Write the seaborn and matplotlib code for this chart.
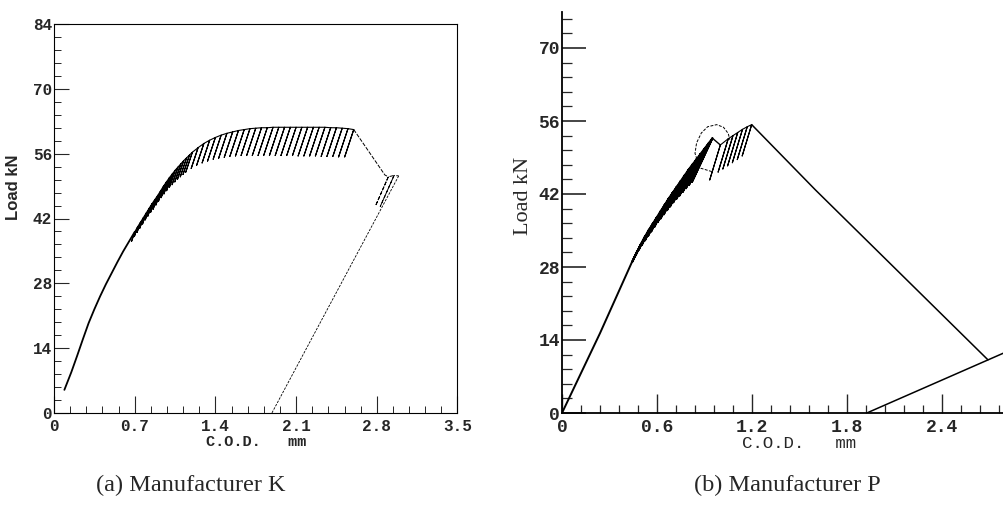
import matplotlib
matplotlib.use("Agg")
import matplotlib.pyplot as plt
from matplotlib.ticker import MultipleLocator, FixedLocator
import pandas as pd
import seaborn as sns

# ---------- (a) Manufacturer K ----------
env_k_cod = [0.09, 0.15, 0.2, 0.25, 0.3, 0.35, 0.4, 0.45, 0.5, 0.55, 0.6, 0.65, 0.7]
env_k_load = [5.0, 8.8, 12.3, 15.9, 19.4, 22.4, 25.2, 27.8, 30.2, 32.6, 34.9, 37.0, 39.1]

cyc_k_cod = [0.700, 0.725, 0.750, 0.775, 0.800, 0.825, 0.850, 0.875, 0.900, 0.925,
             0.950, 0.975, 1.000, 1.025, 1.050, 1.075, 1.100, 1.125, 1.150, 1.175, 1.200,
             1.25, 1.30, 1.35, 1.40, 1.45, 1.50, 1.55, 1.60, 1.65, 1.70, 1.75, 1.80,
             1.85, 1.90, 1.95, 2.00, 2.05, 2.10, 2.15, 2.20, 2.25, 2.30, 2.35, 2.40,
             2.45, 2.50, 2.55, 2.60]
cyc_k_peak = [39.1, 40.2, 41.2, 42.2, 43.2, 44.2, 45.2, 46.1, 47.0, 48.0,
              49.0, 49.9, 50.8, 51.6, 52.4, 53.1, 53.8, 54.5, 55.1, 55.7, 56.3,
              57.3, 58.2, 58.9, 59.5, 60.0, 60.4, 60.7, 61.0, 61.2, 61.4, 61.5, 61.6,
              61.6, 61.7, 61.7, 61.7, 61.7, 61.7, 61.7, 61.7, 61.7, 61.7, 61.7, 61.6,
              61.6, 61.5, 61.4, 61.2]
cyc_k_valley = [37.1, 38.1, 39.0, 39.9, 40.8, 41.7, 42.5, 43.3, 44.0, 44.9,
                45.7, 46.5, 47.3, 48.0, 48.7, 49.3, 49.9, 50.5, 51.0, 51.5, 52.0,
                52.8, 53.5, 54.0, 54.4, 54.8, 55.0, 55.2, 55.4, 55.5, 55.6, 55.6, 55.6,
                55.6, 55.6, 55.6, 55.6, 55.6, 55.6, 55.6, 55.5, 55.5, 55.5, 55.5, 55.4,
                55.4, 55.4, 55.3, 55.3]

soft_k_cod = [2.60, 2.87, 2.90, 2.79, 2.90, 2.95, 2.83, 2.95, 2.99]
soft_k_load = [61.2, 51.4, 51.0, 44.8, 51.0, 51.3, 44.6, 51.3, 51.2]
final_k_cod = [2.99, 1.89]
final_k_load = [51.2, 0.0]

k_xticks = [0, 0.7, 1.4, 2.1, 2.8, 3.5]
k_xlabels = ["0", "0.7", "1.4", "2.1", "2.8", "3.5"]
k_yticks = [0, 14, 28, 42, 56, 70, 84]
k_ylabels = ["0", "14", "28", "42", "56", "70", "84"]

# ---------- (b) Manufacturer P ----------
env_p_cod = [0.0, 0.24, 0.45]
env_p_load = [0.0, 15.3, 29.5]

cyc_p_cod = [0.475, 0.50, 0.525, 0.55, 0.575, 0.60, 0.625, 0.65, 0.675, 0.70,
             0.725, 0.75, 0.775, 0.80, 0.825, 0.85, 0.875, 0.90, 0.925, 0.95]
cyc_p_peak = [31.0, 32.5, 33.9, 35.2, 36.4, 37.6, 38.8, 40.0, 41.2, 42.3,
              43.4, 44.5, 45.6, 46.7, 47.7, 48.7, 49.7, 50.7, 51.7, 52.7]
cyc_p_valley = [29.0, 30.2, 31.3, 32.2, 33.1, 34.0, 34.8, 35.7, 36.6, 37.3,
                38.1, 38.9, 39.6, 40.4, 41.1, 41.7, 42.4, 43.1, 43.7, 44.3]

cyc2_p_cod = [1.00, 1.05, 1.08, 1.11, 1.14, 1.17, 1.198]
cyc2_p_peak = [51.4, 52.6, 53.2, 53.8, 54.4, 54.9, 55.3]
cyc2_p_valley = [44.7, 46.2, 46.8, 47.4, 48.0, 48.6, 49.3]

loop_p_cod = [0.946, 0.87, 0.84, 0.85, 0.88, 0.92, 0.977, 1.02, 1.05, 1.06]
loop_p_load = [46.3, 47.0, 49.8, 51.8, 53.7, 54.9, 55.3, 54.8, 53.6, 52.4]

desc_p_cod = [1.198, 1.6, 2.69]
desc_p_load = [55.3, 42.8, 10.2]
final_p_cod = [1.925, 3.0]
final_p_load = [0.0, 14.3]

p_xticks = [0, 0.6, 1.2, 1.8, 2.4]
p_xlabels = ["0", "0.6", "1.2", "1.8", "2.4"]
p_yticks = [0, 14, 28, 42, 56, 70]
p_ylabels = ["0", "14", "28", "42", "56", "70"]


def cycle_path(cod, peak, valley, stiffness):
    xs, ys = [], []
    for c, p, v in zip(cod, peak, valley):
        vc = c - (p - v) / stiffness
        xs += [c, vc, c]
        ys += [p, v, p]
    return xs, ys


def draw(ax, xs, ys, **kw):
    df = pd.DataFrame({"cod": xs, "load": ys})
    sns.lineplot(data=df, x="cod", y="load", sort=False, estimator=None,
                 color="black", ax=ax, **kw)


sns.set_theme(style="ticks")
plt.rcParams["font.family"] = ["Liberation Mono", "DejaVu Sans"]

fig = plt.figure(figsize=(10.04, 5.05), dpi=100)
ax1 = fig.add_axes([54 / 1004, 92 / 505, 403.5 / 1004, 389 / 505])
ax2 = fig.add_axes([562 / 1004, 92 / 505, 475 / 1004, 401.5 / 505])

# panel a
draw(ax1, env_k_cod, env_k_load, lw=1.3)
cx, cy = cycle_path(cyc_k_cod, cyc_k_peak, cyc_k_valley, 75)
draw(ax1, cx + soft_k_cod[:1], cy + soft_k_load[:1], lw=0.8)
draw(ax1, soft_k_cod, soft_k_load, lw=0.7, linestyle=(0, (4, 1.5)))
draw(ax1, final_k_cod, final_k_load, lw=0.6, linestyle=(0, (3, 1.5)))

ax1.set_xlim(0, 3.5)
ax1.set_ylim(0, 84)
ax1.xaxis.set_major_locator(FixedLocator(k_xticks))
ax1.xaxis.set_minor_locator(MultipleLocator(0.14))
ax1.yaxis.set_major_locator(FixedLocator(k_yticks))
ax1.yaxis.set_minor_locator(MultipleLocator(2.8))
ax1.set_xticklabels(k_xlabels)
ax1.set_yticklabels(k_ylabels)
ax1.tick_params(axis="x", which="major", direction="in", length=12, width=0.8, pad=4)
ax1.tick_params(axis="x", which="minor", direction="in", length=5, width=0.7)
ax1.tick_params(axis="y", which="major", direction="in", length=11, width=0.8, pad=1.5)
ax1.tick_params(axis="y", which="minor", direction="in", length=5, width=0.7)
for lab in ax1.get_xticklabels() + ax1.get_yticklabels():
    lab.set_fontsize(11.5)
    lab.set_fontweight("bold")
for sp in ax1.spines.values():
    sp.set_linewidth(0.8)
    sp.set_color("black")
ax1.set_xlabel("C.O.D.   mm", fontsize=11, fontweight="bold", labelpad=1)
ax1.set_ylabel("Load kN", family="Liberation Sans", fontsize=12, fontweight="bold")
ax1.yaxis.set_label_coords(-0.082, 0.58)

# panel b
cx, cy = cycle_path(cyc_p_cod, cyc_p_peak, cyc_p_valley, 65)
draw(ax2, env_p_cod + cx, env_p_load + cy, lw=1.4)
draw(ax2, [cyc_p_cod[-1], cyc2_p_cod[0]], [cyc_p_peak[-1], cyc2_p_peak[0]], lw=1.0)
cx, cy = cycle_path(cyc2_p_cod, cyc2_p_peak, cyc2_p_valley, 100)
draw(ax2, cx, cy, lw=0.8)
draw(ax2, loop_p_cod, loop_p_load, lw=0.7, linestyle=(0, (3, 1.5)))
draw(ax2, desc_p_cod, desc_p_load, lw=1.1)
draw(ax2, final_p_cod, final_p_load, lw=1.1)

ax2.set_xlim(0, 3.0)
ax2.set_ylim(0, 77)
ax2.xaxis.set_major_locator(FixedLocator(p_xticks))
ax2.xaxis.set_minor_locator(MultipleLocator(0.12))
ax2.yaxis.set_major_locator(FixedLocator(p_yticks))
ax2.yaxis.set_minor_locator(MultipleLocator(2.8))
ax2.set_xticklabels(p_xlabels)
ax2.set_yticklabels(p_ylabels)
ax2.tick_params(axis="x", which="major", direction="in", length=14, width=1.0, pad=4)
ax2.tick_params(axis="x", which="minor", direction="in", length=6, width=0.9)
ax2.tick_params(axis="y", which="major", direction="in", length=17, width=1.2, pad=1.5)
ax2.tick_params(axis="y", which="minor", direction="in", length=7, width=0.9)
for lab in ax2.get_xticklabels() + ax2.get_yticklabels():
    lab.set_fontsize(13)
    lab.set_fontweight("bold")
sns.despine(ax=ax2)
for sp in ("left", "bottom"):
    ax2.spines[sp].set_linewidth(1.3)
    ax2.spines[sp].set_color("black")
ax2.set_xlabel("C.O.D.   mm", fontsize=12.5, labelpad=0)
ax2.set_ylabel("Load kN", family="Liberation Serif", fontsize=16)
ax2.yaxis.set_label_coords(-0.061, 0.54)

for ax in (ax1, ax2):
    ax.set_facecolor("white")

fig.text(191 / 1004, 1 - 485 / 505, "(a) Manufacturer K", family="Liberation Serif",
         fontsize=17.5, ha="center", va="center")
fig.text(787 / 1004, 1 - 485 / 505, "(b) Manufacturer P", family="Liberation Serif",
         fontsize=17.5, ha="center", va="center")

fig.savefig("out.png", dpi=100, facecolor="white")
